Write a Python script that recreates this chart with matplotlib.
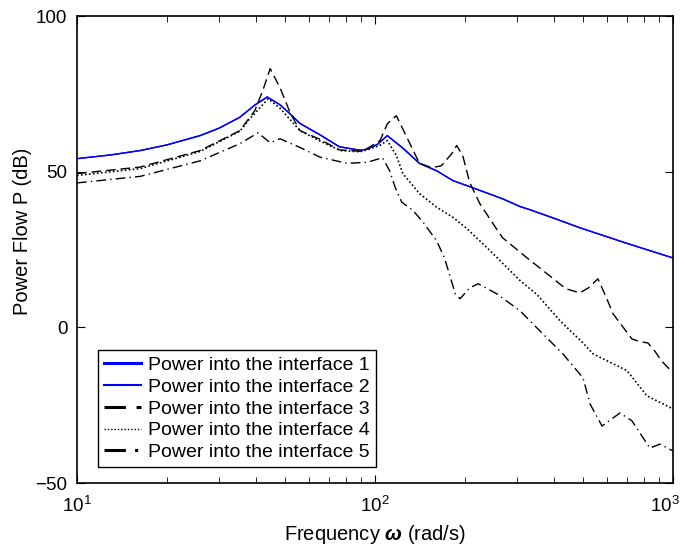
import matplotlib
matplotlib.use('Agg')
import matplotlib.pyplot as plt
import matplotlib.transforms as mtransforms

plt.rcParams['font.family'] = ['Liberation Sans', 'DejaVu Sans']
plt.rcParams['mathtext.fontset'] = 'custom'
plt.rcParams['mathtext.rm'] = 'Liberation Sans'
plt.rcParams['mathtext.it'] = 'Liberation Sans:italic'
plt.rcParams['mathtext.bf'] = 'Liberation Sans:bold'
plt.rcParams['mathtext.bfit'] = 'Liberation Sans:italic:bold'

# power into interfaces 1 and 2 (identical blue curves)
f12 = [10, 13, 16.3, 20, 25.9, 30, 35.2, 39.5, 43.5, 48, 52, 56, 65, 76, 89, 94,
       102, 110, 124, 141, 161, 183, 208, 268, 307, 331, 400, 487, 700, 1000]
p12 = [54.2, 55.4, 56.8, 58.6, 61.6, 64.0, 67.5, 71.4, 74.0, 71.5, 68.5, 65.5, 62.0,
       58.0, 56.9, 57.2, 58.8, 61.6, 57.6, 52.7, 50.3, 47.1, 45.2, 41.3, 38.8, 37.8,
       35.0, 32.0, 27.0, 22.3]

# interface 3 (dashed)
f3 = [10, 16.3, 25.9, 35.2, 39.5, 42, 44.5, 48, 52, 56, 65, 76, 89, 94, 104, 110, 118,
      131, 141, 155, 167, 181, 188, 197, 208, 225, 249, 268, 323, 397, 437, 487, 521,
      560, 590, 630, 681, 728, 775, 824, 869, 916, 1000]
p3 = [49.4, 51.5, 56.8, 63.2, 69.6, 76.0, 83.1, 77.0, 68.8, 63.2, 60.5, 57.0, 56.6,
      57.4, 60.0, 65.4, 68.0, 59.0, 52.7, 51.3, 51.9, 55.8, 58.4, 55.2, 46.5, 39.7,
      33.3, 28.8, 22.4, 15.6, 12.4, 11.1, 12.7, 15.6, 10.8, 4.3, 0.0, -3.7, -4.6,
      -5.0, -7.6, -10.8, -14.6]

# interface 4 (dotted)
f4 = [10, 16.3, 25.9, 35.2, 38, 43.8, 48, 56, 65, 76.4, 89, 94, 104, 110, 118, 124,
      141, 161, 183, 203, 237, 307, 350, 418, 499, 539, 701, 818, 1000]
p4 = [48.8, 51.0, 56.5, 63.0, 67.0, 73.4, 70.4, 63.2, 60.0, 56.8, 56.4, 57.0, 58.5,
      60.0, 55.2, 49.4, 43.0, 38.6, 35.3, 31.8, 25.7, 15.0, 10.5, 2.1, -5.0, -8.5,
      -13.9, -22.0, -26.2]

# interface 5 (dash-dot)
f5 = [10, 16.3, 25.9, 35.2, 40.5, 44.5, 48, 56, 65.3, 80.5, 94, 106, 112, 117, 123,
      134, 145, 161, 171, 186, 193, 208, 222, 256, 307, 339, 427, 499, 527, 578, 664,
      728, 837, 904, 1000]
p5 = [46.4, 48.5, 53.5, 59.0, 62.5, 59.3, 60.6, 57.8, 54.7, 52.7, 53.0, 54.5, 50.3,
      44.9, 40.2, 37.6, 33.8, 27.8, 22.4, 10.8, 9.2, 12.7, 14.0, 10.8, 5.3, 1.1, -8.5,
      -16.2, -24.6, -31.7, -27.5, -30.0, -38.8, -37.5, -39.7]

labels = ['Power into the interface %d' % i for i in range(1, 6)]

fig = plt.figure(figsize=(6.85, 5.5), dpi=100)
ax = fig.add_axes([0.1124, 0.1218, 0.870, 0.849])

ax.plot(f12, p12, color='blue', lw=1.0, label=labels[0])
ax.plot(f12, p12, color='blue', lw=1.0, label=labels[1])
ax.plot(f3, p3, color='black', lw=1.0, dashes=(7, 3.5), label=labels[2])
ax.plot(f4, p4, color='black', lw=1.2, dashes=(1, 1.4), label=labels[3])
ax.plot(f5, p5, color='black', lw=1.0, dashes=(7, 3, 1, 3), label=labels[4])

ax.set_xscale('log')
ax.set_xlim(10, 1000)
ax.set_ylim(-50, 100)
ax.set_yticks([-50, 0, 50, 100])
ax.tick_params(which='both', direction='in', top=True, right=True, labelsize=13.5)
ax.tick_params(which='major', length=6)
ax.tick_params(which='minor', length=4)
ax.tick_params(axis='x', which='both', pad=9)
ax.tick_params(axis='y', which='both', pad=7)
for s in ax.spines.values():
    s.set_linewidth(1.2)

ax.set_xlabel(r'Frequency $\boldsymbol{\omega}$ (rad/s)', fontsize=14.5, labelpad=5)
ax.set_ylabel('Power Flow P (dB)', fontsize=14.5)
ax.yaxis.set_label_coords(-0.075, 0.54)

leg = ax.legend(loc='lower left', bbox_to_anchor=(0.035, 0.034), borderaxespad=0,
                fontsize=14, fancybox=False, edgecolor='black', framealpha=1,
                handlelength=1.9, handletextpad=0.4, labelspacing=0.22, borderpad=0.3)
leg.get_frame().set_linewidth(1.0)
for line, w in zip(leg.get_lines(), [2.2, 1.5, 2.2, 1.0, 2.2]):
    line.set_linewidth(w)

# keep the 10^3 label inside the figure, like the original
fig.canvas.draw()
for tick in ax.xaxis.get_major_ticks():
    if abs(tick.get_loc() - 1000) < 1e-6:
        lbl = tick.label1
        lbl.set_transform(lbl.get_transform() +
                          mtransforms.ScaledTranslation(-6 / 72, 0, fig.dpi_scale_trans))

fig.savefig('out.png', dpi=100)
